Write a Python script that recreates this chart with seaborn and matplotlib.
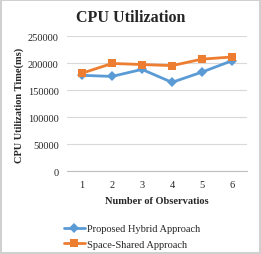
import pandas as pd
import matplotlib.pyplot as plt
import seaborn as sns

# --- datos ---
observaciones = [1, 2, 3, 4, 5, 6]
hibrido = [178000, 176000, 189000, 165000, 184000, 205000]
compartido = [182000, 200000, 198000, 196000, 208000, 212000]
series = ['Proposed Hybrid Approach', 'Space-Shared Approach']

df = pd.DataFrame({
    'obs': observaciones * 2,
    'valor': hibrido + compartido,
    'serie': [series[0]] * 6 + [series[1]] * 6,
})

sns.set_style('white')
plt.rcParams['font.family'] = ['Liberation Serif', 'DejaVu Serif']

fig = plt.figure(figsize=(2.61, 2.55), dpi=100)
fig.patch.set_edgecolor('#D0D0D0')
fig.patch.set_linewidth(1.5)
ax = fig.add_axes([0.257, 0.324, 0.689, 0.529])

colores = {series[0]: '#5B9BD5', series[1]: '#ED7D31'}
marcas = {series[0]: 'D', series[1]: 's'}
sns.lineplot(data=df, x='obs', y='valor', hue='serie', style='serie',
             palette=colores, markers=marcas, dashes=False, linewidth=2,
             markersize=5.5, markeredgewidth=0, ax=ax)

ax.set_xlim(0.5, 6.5)
ax.set_ylim(0, 250000)
ax.set_yticks([0, 50000, 100000, 150000, 200000, 250000])
ax.set_xticks(observaciones)
ax.tick_params(labelsize=7.5, length=0, pad=6)
ax.yaxis.grid(True, color='#D9D9D9', linewidth=0.8)
for s in ['top', 'right', 'left']:
    ax.spines[s].set_visible(False)
ax.spines['bottom'].set_color('#BFBFBF')

ax.set_xlabel('Number of Observatios', fontsize=7.5, fontweight='bold', labelpad=5)
ax.set_ylabel('CPU Utilization Time(ms)', fontsize=7.5, fontweight='bold', labelpad=3)
fig.text(0.5, 0.93, 'CPU Utilization', ha='center', va='center', fontsize=11.5, fontweight='bold')

ax.legend(loc='upper left', bbox_to_anchor=(-0.04, -0.36), frameon=False,
          fontsize=7.5, handlelength=2, handletextpad=0.2, labelspacing=0.6,
          borderaxespad=0)

plt.savefig('out.png', dpi=100)
